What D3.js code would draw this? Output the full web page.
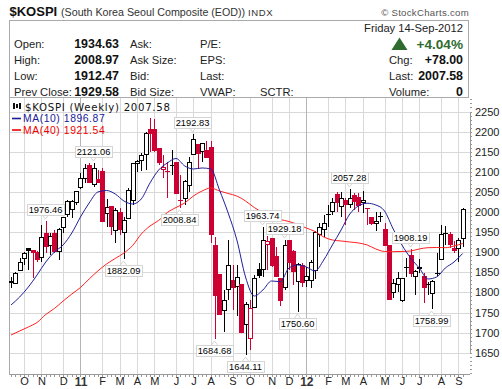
<!DOCTYPE html>
<html>
<head>
<meta charset="utf-8">
<script src="https://cdn.jsdelivr.net/npm/d3@7/dist/d3.min.js"></script>
<style>
  html, body { margin: 0; padding: 0; background: #fff; }
  svg { display: block; font-family: "Liberation Sans", Arial, sans-serif; }
  .grid line { stroke: #d9d9d9; }
  .axis-lbl { font-size: 11px; fill: #222; }
</style>
</head>
<body>
<div id="chart"></div>
<script>
// weekly candles, 13-Sep-2010 to 10-Sep-2012
const opens = [1825,1823.4,1857.5,1885.6,1909.7,1905.5,1901.3,1888.8,1947.8,1919.7,1947.8,1903.7,1962.7,1994.3,2008.3,2024,2063,2083.9,2117,2069,2081.4,2102.8,1999.3,2015,1955.2,2000,1949.5,1985.8,2030,2122.7,2128.6,2146,2205.8,2205.8,2158.5,2106,2102,2116.2,2125,2031,2035,2067,2143.6,2169,2150,2154,2161,1918,1846,1756,1808,1831,1817,1820,1721,1686,1763,1857.5,1859,1922,1934.6,1890.6,1835,1814,1930.4,1904,1828.4,1868,1832.6,1832.6,1856,1947,1957,1995,2001,2044,2013,2030,2019,2042.3,2036.6,2025,2010,1988.3,1972,1989,1957.7,1918,1802,1821,1781,1862,1892.3,1841.6,1864,1841,1821.5,1800,1848,1885,1947.5,1944.6,1910,1910,1934.63];
const highs = [1838,1851,1885.6,1901.3,1910.5,1905.5,1904,1967.7,1976.46,1947.8,1955,1960,1988.3,2029.9,2029.9,2053,2097.8,2119.4,2121,2121.06,2104.5,2110,2032.4,2015,2010,2010,1988.3,2059.7,2122.7,2129,2146.8,2199.8,2233,2230.6,2159,2141.8,2124.4,2154,2125.5,2092,2079.7,2136.8,2192.83,2169,2172,2176.6,2176.6,1938.6,1846,1806,1930.4,1868,1868,1820,1777,1781,1843,1873,1963.74,1940,1935,1913.7,1835,1929.18,1930.4,1905.5,1872,1873,1863,1880.6,1953,1972.7,1992.6,2017.4,2034.8,2050.5,2050.5,2034.8,2057.28,2047.3,2047.3,2053,2011,1988.3,2000,2000.8,1972.7,1918,1832.6,1851.5,1836,1885,1908.19,1855,1882.4,1848,1826.6,1831,1897,1967.7,1965,1950,1928.6,1935.4,2008.97];
const lows = [1811,1821,1854,1868,1856,1836,1876,1876.4,1898,1893,1898,1880.6,1947.8,1988.3,1985,2017.4,2056.5,2072,2071,2063,2071.4,1976,1963.5,1943,1923,1943,1882.09,1985,2017.4,2100.3,2102.8,2104.5,2150,2150,2117,2084.6,2035,2092,2044.8,2008.84,2017.4,2049.8,2141.8,2107,2124.4,2133.6,1923,1684.68,1744,1702,1781,1756,1741,1698,1644.11,1657,1763,1836,1838,1856,1864,1838,1767,1806,1856,1818,1750.6,1813.5,1813.5,1811,1833.4,1913.7,1938.6,1963.5,1992.6,1999.3,1988.3,1967.7,2009,2005,2000.8,1997.5,1967.7,1967.7,1953.5,1976,1916,1780,1786,1802,1777,1838,1839,1793.5,1847.5,1774.4,1793.5,1758.99,1841,1882.4,1918,1910,1897,1876.4,1912.47];
const closes = [1828,1848,1876.4,1898,1902,1897,1880.6,1938.6,1913.7,1941,1901.3,1957.7,1987.6,2027.4,2028,2051.5,2085.4,2108.7,2071.4,2108.7,2071.4,1976,2013.2,1963.5,2005,1955,1980,2054.8,2121,2127.6,2141,2197.3,2193.3,2150,2121.2,2111,2101,2112.7,2044.8,2030,2077,2125.2,2180.9,2143.6,2171,2133.6,1943,1791,1744,1781,1868,1810,1839,1698,1771,1761,1835,1839,1930.4,1929,1864,1839,1777,1918,1872,1851.5,1870,1823.4,1841.6,1876.4,1951,1963.5,1972,1994,2024,2021.7,2034,2017.4,2034,2025.6,2013.2,2030,2009,1972,1977.6,1987.5,1916,1781,1824,1835,1835,1861,1846,1854,1859,1811.7,1820,1829,1847,1946,1946.5,1918,1903,1929.58,2007.58];

// moving averages, read every second week
const ma10 = [1768.7,1788.6,1813.4,1843.3,1875.6,1900.5,1918,1947.8,1987.6,2022.4,2049.8,2053.5,2044.8,2027.4,2020,2032.4,2072.2,2104.5,2122,2133.1,2114.5,2107,2109.5,2107,2054.8,1997.5,1930.4,1838.3,1791,1806,1828.4,1826.6,1860.7,1868.2,1863.2,1853.3,1880.6,1918,1955.3,1995,2015,2021.7,2017.4,2002.5,1957.7,1918,1885.6,1860.7,1833.4,1838.3,1860.7,1875.6,1896.87];
const ma40 = [1694,1704,1714,1725.2,1745,1760,1778.6,1796,1812.2,1833.4,1853.3,1870.7,1884.4,1898,1916.7,1945.3,1965.2,1978.9,1998.8,2011.2,2022.4,2039.8,2052.3,2059.7,2052.3,2046,2039.8,2027.4,2011.2,1998.8,1990,1981.4,1976.4,1969,1960.2,1951.5,1937.8,1930.4,1927.9,1925.4,1923,1918,1908,1901.8,1901.3,1901.8,1903,1908,1911.2,1911.7,1911.2,1915.4,1921.54];

const priceTicks = [1650,1700,1750,1800,1850,1900,1950,2000,2050,2100,2150,2200,2250];
const monthNames = ["O","N","D","11","F","M","A","M","J","J","A","S","O","N","D","12","F","M","A","M","J","J","A","S"];

// callouts: week index, text, above the high or below the low
const calloutWeeks = [8,19,26,39,42,47,54,58,63,66,78,92,97];
const calloutText = ["1976.46","2121.06","1882.09","2008.84","2192.83","1684.68","1644.11","1963.74","1929.18","1750.60","2057.28","1908.19","1758.99"];
const calloutSide = ["up","up","down","down","up","down","down","up","up","down","up","up","down"];

const quoteLeft = [["Open:","1934.63"],["High:","2008.97"],["Low:","1912.47"],["Prev Close:","1929.58"]];
const quoteMid = ["Ask:","Ask Size:","Bid:","Bid Size:"];
const quoteMid2 = ["P/E:","EPS:","Last:","VWAP:"];
const quoteRight = [["Chg:","+78.00"],["Last:","2007.58"],["Volume:","0"]];

const width = 502, height = 389;
const plot = {left: 9.5, right: 469.5, top: 97.5, bottom: 374.5};

const svg = d3.select("#chart").append("svg")
    .attr("width", width).attr("height", height);

const weeks = d3.utcMonday.range(new Date(Date.UTC(2010, 8, 13)), new Date(Date.UTC(2012, 8, 11)));
const monthStarts = weeks.filter(d => d.getUTCDate() <= 7);

const x = d3.scaleUtc()
    .domain([weeks[0], weeks[weeks.length - 1]])
    .range([11, 462.7]);
const y = d3.scaleLinear()
    .domain([1650, 2250])
    .range([352.7, 111.5]);
const px = d => Math.round(x(d));

// grid
const grid = svg.append("g").attr("class", "grid").attr("shape-rendering", "crispEdges");
grid.selectAll("line.h").data(priceTicks).enter().append("line").attr("class", "h")
    .attr("x1", plot.left).attr("x2", plot.right)
    .attr("y1", d => Math.round(y(d)) + 0.5).attr("y2", d => Math.round(y(d)) + 0.5);
grid.selectAll("line.v").data(monthStarts).enter().append("line").attr("class", "v")
    .attr("x1", d => px(d) + 0.5).attr("x2", d => px(d) + 0.5)
    .attr("y1", plot.top).attr("y2", plot.bottom)
    .style("stroke", (d, i) => monthNames[i].length > 1 ? "#b5b5b5" : null);

// plot frame and axes
svg.append("line").attr("x1", plot.left).attr("x2", plot.left).attr("y1", 20).attr("y2", plot.bottom)
    .attr("stroke", "#aaa").attr("shape-rendering", "crispEdges");

const yMinor = d3.axisRight(y).tickValues(d3.range(1600, 2290, 10).filter(v => y(v) > plot.top && y(v) < plot.bottom))
    .tickSize(2).tickFormat("");
svg.append("g").attr("transform", `translate(${plot.right},0)`).call(yMinor)
    .call(g => g.selectAll("line,path").attr("stroke", "#999").attr("shape-rendering", "crispEdges"));

const yAxis = d3.axisRight(y).tickValues(priceTicks).tickSize(0).tickPadding(5.5).tickFormat(d3.format("d"));
svg.append("g").attr("transform", `translate(${plot.right},0)`).call(yAxis)
    .call(g => g.select(".domain").remove())
    .call(g => g.selectAll("text").attr("class", "axis-lbl").attr("font-family", null).attr("font-size", null));

const xMinor = d3.axisBottom(x).tickValues(weeks).tickSize(2).tickFormat("");
svg.append("g").attr("transform", `translate(0,${plot.bottom})`).call(xMinor)
    .call(g => g.select(".domain").attr("d", `M${plot.left},0H${plot.right}`))
    .call(g => g.selectAll("line,path").attr("stroke", "#999").attr("shape-rendering", "crispEdges"));

const xAxis = d3.axisBottom(x).tickValues(monthStarts).tickSize(0).tickPadding(3)
    .tickFormat((d, i) => monthNames[i]);
svg.append("g").attr("transform", `translate(0,${plot.bottom})`).call(xAxis)
    .call(g => g.select(".domain").remove())
    .call(g => g.selectAll("text").attr("class", "axis-lbl").attr("font-family", null).attr("font-size", null)
        .style("font-weight", (d, i) => monthNames[i].length > 1 ? "bold" : null)
        .style("font-size", (d, i) => monthNames[i].length > 1 ? "12px" : null)
        .style("fill", (d, i) => monthNames[i].length > 1 ? "#333" : null));

// candles
const candles = weeks.map((d, i) => ({
    date: d, open: opens[i], high: highs[i], low: lows[i], close: closes[i],
    up: closes[i] > opens[i],
    color: i === 0 || closes[i] >= closes[i - 1] ? "#000" : "#cc0033"
}));

const candleG = svg.append("g").attr("shape-rendering", "crispEdges");
candleG.selectAll("line").data(candles).enter().append("line")
    .attr("x1", d => px(d.date) + 0.5).attr("x2", d => px(d.date) + 0.5)
    .attr("y1", d => y(d.high)).attr("y2", d => y(d.low))
    .attr("stroke", d => d.color);
candleG.selectAll("rect").data(candles).enter().append("rect")
    .attr("x", d => d.up ? px(d.date) - 1.5 : px(d.date) - 2)
    .attr("width", d => d.up ? 4 : 5)
    .attr("y", d => d.up ? Math.round(y(d.close)) + 0.5 : Math.round(y(d.open)))
    .attr("height", d => Math.max(1, Math.round(Math.abs(y(d.open) - y(d.close)))))
    .attr("fill", d => d.up ? "#fff" : d.color)
    .attr("stroke", d => d.up ? d.color : "none");

// moving averages
const maWeeks = weeks.filter((d, i) => i % 2 === 0);
const maLine = d3.line().x((d, i) => x(maWeeks[i])).y(d => y(d)).curve(d3.curveMonotoneX);
svg.append("path").attr("d", maLine(ma40)).attr("fill", "none").attr("stroke", "#ff2020").attr("stroke-width", 1);
svg.append("path").attr("d", maLine(ma10)).attr("fill", "none").attr("stroke", "#20209a").attr("stroke-width", 1);

// callouts
const calloutG = svg.selectAll("g.callout")
    .data(calloutWeeks.map((w, i) => ({week: w, text: calloutText[i], side: calloutSide[i]})))
    .enter().append("g").attr("class", "callout")
    .attr("transform", d => {
        const tip = d.side === "up" ? y(highs[d.week]) : y(lows[d.week]);
        return `translate(${px(weeks[d.week]) - 0.5},${Math.round(tip)})`;
    });
calloutG.append("path")
    .attr("d", d => d.side === "up"
        ? "M-3,-6L0,-2L3,-6" : "M-3,6L0,2L3,6")
    .attr("fill", "#fff").attr("stroke", "#d5d5d5");
calloutG.append("rect")
    .attr("x", -18.5).attr("width", 37).attr("height", 11)
    .attr("y", d => d.side === "up" ? -17 : 6)
    .attr("fill", "#fff").attr("stroke", "#d5d5d5").attr("shape-rendering", "crispEdges");
calloutG.append("text")
    .attr("text-anchor", "middle")
    .attr("y", d => d.side === "up" ? -8.2 : 14.8)
    .attr("font-size", "9.3px").attr("fill", "#000")
    .text(d => d.text);

// legend inside the plot
svg.append("text").attr("x", 25).attr("y", 111).attr("font-family", "DejaVu Sans")
    .attr("font-size", "10.2px").attr("letter-spacing", "0.7px").attr("fill", "#111").text("$KOSPI (Weekly) 2007.58");
svg.append("g").attr("shape-rendering", "crispEdges").call(g => {
    [[13, 103, 6], [16, 104, 4], [19, 103, 6]].forEach(b =>
        g.append("rect").attr("x", b[0]).attr("y", b[1]).attr("width", 2).attr("height", b[2]).attr("fill", "#111"));
});
[["MA(10) 1896.87", "#1a1a9a", 118.5], ["MA(40) 1921.54", "#f00000", 130]].forEach(l => {
    svg.append("line").attr("x1", 12).attr("x2", 21).attr("y1", l[2]).attr("y2", l[2])
        .attr("stroke", l[1]).attr("stroke-width", 1.6);
    svg.append("text").attr("x", 23).attr("y", l[2] + 3.5).attr("font-size", "10.4px").attr("letter-spacing", "0.55px").attr("fill", l[1]).text(l[0]);
});

// header
svg.append("text").attr("x", 9.5).attr("y", 16).attr("font-size", "13px").attr("font-weight", "bold").attr("fill", "#111").text("$KOSPI");
svg.append("text").attr("x", 61).attr("y", 15.5).attr("font-size", "10.7px").attr("fill", "#333").text("(South Korea Seoul Composite (EOD))");
svg.append("text").attr("x", 248).attr("y", 15.5).attr("font-size", "9.5px").attr("letter-spacing", "0.6px").attr("fill", "#333").text("INDX");
svg.append("text").attr("x", 469).attr("y", 15.5).attr("text-anchor", "end").attr("font-size", "9.6px").attr("letter-spacing", "0.3px").attr("fill", "#555").text("© StockCharts.com");

// quote box
svg.append("rect").attr("x", 9.5).attr("y", 20.5).attr("width", 459).attr("height", 77)
    .attr("fill", "none").attr("stroke", "#aaa").attr("shape-rendering", "crispEdges");

const rowY = [48, 64, 80, 96];
const rowLabel = (xPos, yPos, t, anchor) => svg.append("text").attr("x", xPos).attr("y", yPos)
    .attr("text-anchor", anchor || "start").attr("font-size", "11.2px").attr("fill", "#222").text(t);
const rowValue = (xPos, yPos, t) => svg.append("text").attr("x", xPos).attr("y", yPos)
    .attr("text-anchor", "end").attr("font-size", "12.4px").attr("font-weight", "bold").attr("fill", "#111").text(t);

quoteLeft.forEach((d, i) => { rowLabel(14, rowY[i], d[0]); rowValue(119, rowY[i], d[1]); });
quoteMid.forEach((t, i) => rowLabel(130, rowY[i], t));
quoteMid2.forEach((t, i) => rowLabel(200, rowY[i], t));
rowLabel(260, rowY[3], "SCTR:");

rowLabel(463, 32, "Friday  14-Sep-2012", "end");
svg.append("path").attr("d", "M391.5,50L399.5,37.5L407.5,50Z").attr("fill", "#2f6b2f");
svg.append("text").attr("x", 463).attr("y", 49).attr("text-anchor", "end").attr("font-size", "13.6px")
    .attr("font-weight", "bold").attr("fill", "#2f6b2f").text("+4.04%");
quoteRight.forEach((d, i) => { rowLabel(389, rowY[i + 1], d[0]); rowValue(463, rowY[i + 1], d[1]); });
</script>
</body>
</html>
